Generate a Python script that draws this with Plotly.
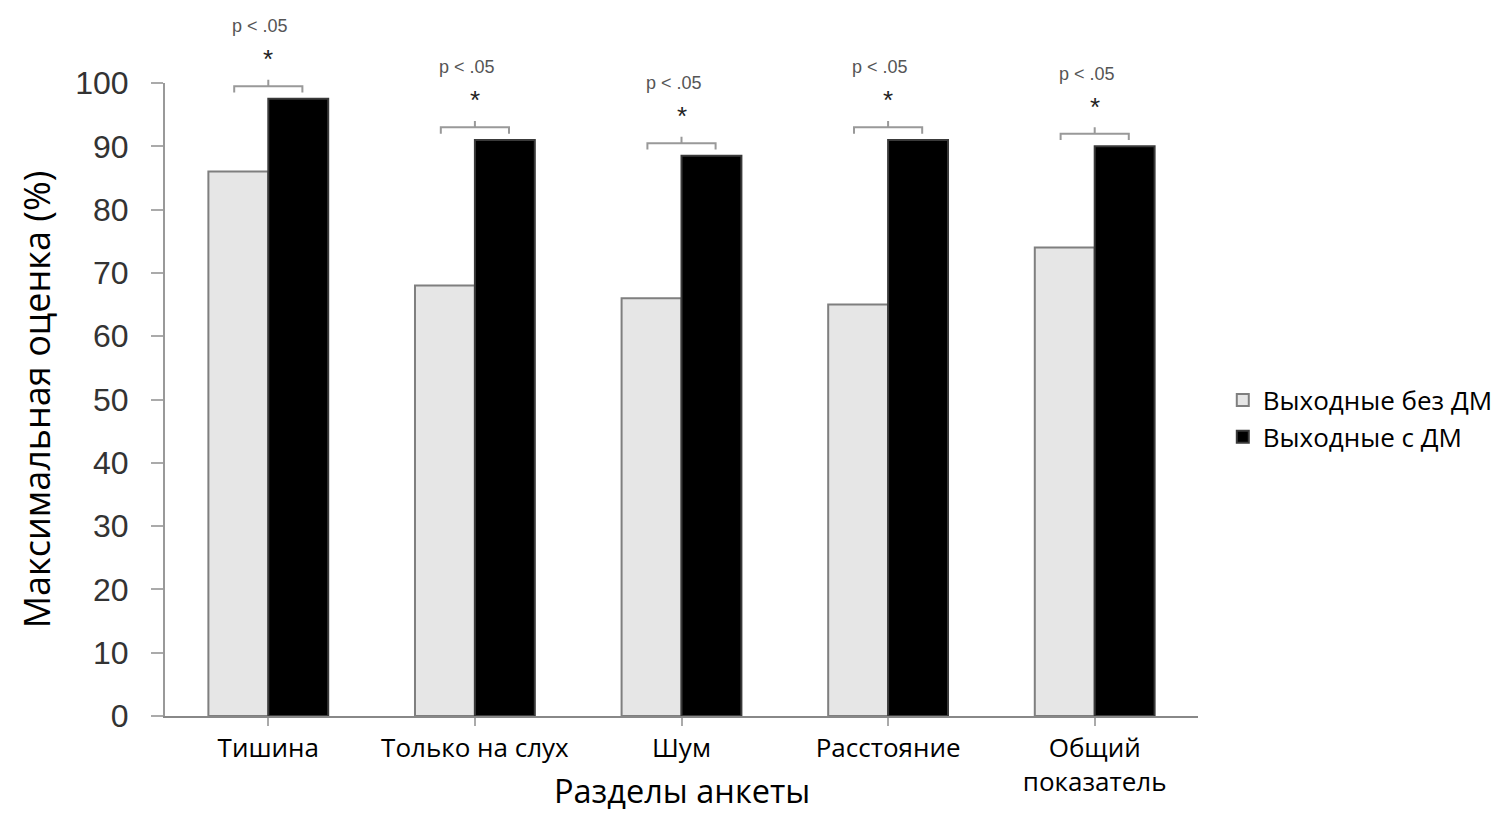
import plotly.graph_objects as go

categories = ["Тишина", "Только на слух", "Шум", "Расстояние", "Общий<br>показатель"]
without_dm = [86, 68, 66, 65, 74]
with_dm = [97.5, 91, 88.5, 91, 90]
series_names = ["Выходные без ДМ", "Выходные с ДМ"]
sig_label = "p < .05"
y_ticks = list(range(0, 101, 10))

Y_MAX = 100
fig = go.Figure()
fig.add_trace(go.Bar(
    x=categories, y=without_dm, name=series_names[0],
    marker=dict(color="#e6e6e6", line=dict(color="#7f7f7f", width=2)),
))
fig.add_trace(go.Bar(
    x=categories, y=with_dm, name=series_names[1],
    marker=dict(color="#000000", line=dict(color="#3a3a3a", width=2)),
))

shapes = []
annotations = []
half = 0.165
for i, v in enumerate(with_dm):
    yb = (v + 2.0) / Y_MAX
    drop = 1.0 / Y_MAX
    shapes.append(dict(
        type="path", xref="x", yref="paper",
        path=f"M {i-half},{yb-drop} L {i-half},{yb} L {i+half},{yb} L {i+half},{yb-drop} M {i},{yb} L {i},{yb+drop}",
        line=dict(color="#999999", width=2),
    ))
    annotations.append(dict(
        x=i, y=v + 2.0, xref="x", yref="y", text="*", showarrow=False,
        yshift=27, font=dict(family="Liberation Sans", size=26, color="#222222"),
    ))
    annotations.append(dict(
        x=i, y=v + 2.0, xref="x", yref="y", text=sig_label, showarrow=False,
        yshift=60, xshift=-8, font=dict(family="Liberation Sans", size=18, color="#555555"),
    ))

# end tick on x axis
shapes.append(dict(type="line", xref="paper", yref="y", x0=1, x1=1, y0=0, y1=-1.3,
                   line=dict(color="#aaaaaa", width=2)))

annotations.append(dict(
    x=0.5, y=-0.117, xref="paper", yref="paper", yanchor="middle", text="Разделы анкеты",
    showarrow=False, font=dict(family="Open Sans", size=32.5, color="#000000"),
))

# page body has an 8px margin, so margins are offset accordingly
fig.update_layout(
    width=1497, height=825,
    margin=dict(l=157, r=307, t=75, b=117, autoexpand=False),
    paper_bgcolor="white", plot_bgcolor="white",
    barmode="group", bargap=0.42, bargroupgap=0,
    shapes=shapes, annotations=annotations,
    legend=dict(x=1.024, y=0.47, xanchor="left", yanchor="middle",
                font=dict(family="Open Sans", size=26, color="#000000"),
                itemwidth=30),
    showlegend=True,
)
fig.update_xaxes(
    showline=True, linecolor="#888888", linewidth=2,
    ticks="outside", ticklen=8, tickcolor="#aaaaaa", tickwidth=2,
    tickfont=dict(family="Open Sans", size=26, color="#000000"),
    showgrid=False, zeroline=False,
)
fig.update_yaxes(
    range=[0, Y_MAX], tickvals=y_ticks,
    showline=True, linecolor="#999999", linewidth=2,
    ticks="outside", ticklen=12, tickcolor="#aaaaaa", tickwidth=2,
    tickfont=dict(family="Liberation Sans", size=32, color="#333333"),
    ticklabelstandoff=16,
    showgrid=False, zeroline=False,
    title=dict(text="Максимальная оценка (%)", standoff=14,
               font=dict(family="Open Sans", size=36, color="#000000")),
)
fig.write_html("out.html")
